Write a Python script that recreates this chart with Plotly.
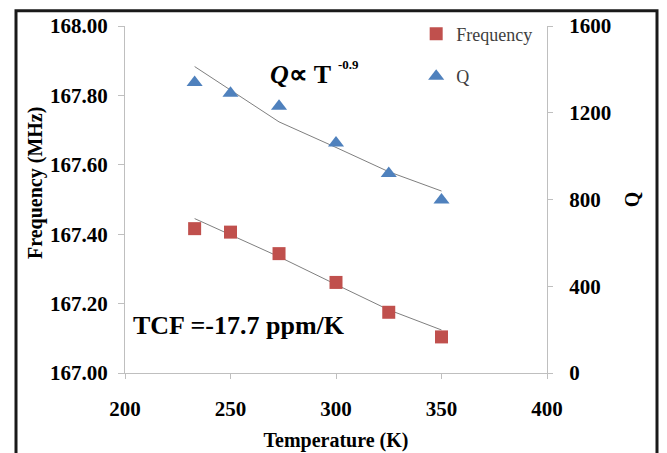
import plotly.graph_objects as go

# ---- data ----
temperature = [233, 250, 273, 300, 325, 350]
frequency_mhz = [167.416, 167.406, 167.344, 167.261, 167.175, 167.104]
q_factor = [1340, 1290, 1230, 1060, 920, 798]

# trend lines as drawn in the reference (values at the same temperatures)
frequency_fit = [167.445, 167.398, 167.335, 167.255, 167.182, 167.124]
q_fit = [1413, 1304, 1158, 1040, 928, 839]

x_ticks = [200, 250, 300, 350, 400]
freq_ticks = [167.0, 167.2, 167.4, 167.6, 167.8, 168.0]
q_ticks = [0, 400, 800, 1200, 1600]

FONT = "Liberation Serif"
RED = "#C0504D"
BLUE = "#4F81BD"
AXIS = "#BFBFBF"

# the page body adds an 8px margin, so the figure is 8px smaller each way
PAGE_OFF = 8
W, H = 667 - PAGE_OFF, 453 - PAGE_OFF
# plot area in screen pixels: x 125..547, y 26..373
L, R, T, B = 125, 547, 26, 373
PW, PH = R - L, B - T


def px(x):
    return (x - L) / PW


def py(y):
    return (B - y) / PH


fig = go.Figure()

fig.add_trace(go.Scatter(
    x=temperature, y=frequency_fit, mode="lines",
    line=dict(color="#7F7F7F", width=1), showlegend=False, hoverinfo="skip"))
fig.add_trace(go.Scatter(
    x=temperature, y=q_fit, mode="lines", yaxis="y2",
    line=dict(color="#7F7F7F", width=1), showlegend=False, hoverinfo="skip"))

fig.add_trace(go.Scatter(
    x=temperature, y=frequency_mhz, mode="markers", name="Frequency",
    legendgroup="f",
    marker=dict(symbol="square", size=13, color=RED)))
fig.add_trace(go.Scatter(
    x=temperature, y=q_factor, mode="markers", name="Q", yaxis="y2",
    legendgroup="q",
    marker=dict(symbol="triangle-up", size=14, color=BLUE)))

tickfont = dict(family=FONT, size=21, color="#000000", weight="bold")

fig.update_layout(
    width=W, height=H,
    margin=dict(l=L - PAGE_OFF, r=W - (R - PAGE_OFF), t=T - PAGE_OFF,
                b=H - (B - PAGE_OFF), autoexpand=False),
    paper_bgcolor="white", plot_bgcolor="white",
    font=dict(family=FONT, color="#000000"),
    xaxis=dict(
        range=[200, 400], tickvals=x_ticks, showgrid=False, zeroline=False,
        showline=True, linecolor=AXIS, linewidth=1, automargin=False,
        ticks="outside", ticklen=5, tickcolor=AXIS,
        tickfont=tickfont, ticklabelstandoff=12,
        title=dict(text="Temperature (K)", standoff=12,
                   font=dict(family=FONT, size=20, weight="bold")),
    ),
    yaxis=dict(
        range=[167.0, 168.0], tickvals=freq_ticks, tickformat=".2f",
        showgrid=False, zeroline=False, automargin=False,
        showline=True, linecolor=AXIS, linewidth=1,
        ticks="outside", ticklen=6, tickcolor=AXIS,
        tickfont=tickfont, ticklabelstandoff=6,
    ),
    yaxis2=dict(
        range=[0, 1600], tickvals=q_ticks, overlaying="y", side="right",
        showgrid=False, zeroline=False, automargin=False,
        showline=True, linecolor=AXIS, linewidth=1,
        ticks="outside", ticklen=5, tickcolor=AXIS,
        tickfont=tickfont, ticklabelstandoff=12,
        title=dict(text="Q", standoff=14,
                   font=dict(family=FONT, size=20, weight="bold")),
    ),
    legend=dict(
        x=0.69, y=1.03, xanchor="left", yanchor="top",
        font=dict(family=FONT, size=18, color="#404040"),
        bgcolor="rgba(0,0,0,0)", tracegroupgap=16,
    ),
    showlegend=True,
)

# Frequency axis title (placed like the reference, slightly above centre)
fig.add_annotation(
    text="<b>Frequency (MHz)</b>", textangle=-90,
    xref="paper", yref="paper", x=px(35), y=py(183),
    xanchor="center", yanchor="middle", showarrow=False,
    font=dict(family=FONT, size=20, color="#000000"))

# Q ∝ T^-0.9
fig.add_annotation(
    text="<b><i>Q</i>∝ T</b>",
    xref="paper", yref="paper", x=px(268), y=py(74),
    xanchor="left", yanchor="middle", showarrow=False,
    font=dict(family=FONT, size=26, color="#000000"))
fig.add_annotation(
    text="<b>-0.9</b>",
    xref="paper", yref="paper", x=px(336), y=py(64),
    xanchor="left", yanchor="middle", showarrow=False,
    font=dict(family=FONT, size=13, color="#000000"))

# TCF
fig.add_annotation(
    text="<b>TCF =-17.7 ppm/K</b>",
    xref="paper", yref="paper", x=px(131), y=py(325),
    xanchor="left", yanchor="middle", showarrow=False,
    font=dict(family=FONT, size=26, color="#000000"))

# outer frame
fig.add_shape(
    type="rect", xref="paper", yref="paper",
    x0=px(16), x1=px(657), y0=py(480), y1=py(10.7),
    line=dict(color="#1A1A1A", width=3), fillcolor="rgba(0,0,0,0)",
    layer="above")

fig.write_html("out.html")
